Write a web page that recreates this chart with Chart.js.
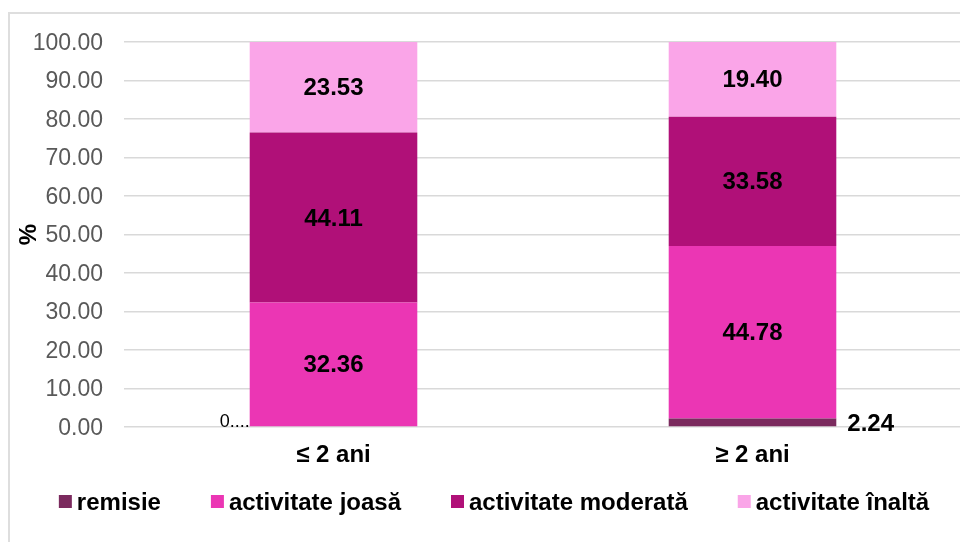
<!DOCTYPE html>
<html><head><meta charset="utf-8">
<script src="https://cdn.jsdelivr.net/npm/chart.js@4.4.1/dist/chart.umd.min.js"></script>
<style>
html,body{margin:0;padding:0;width:960px;height:542px;overflow:hidden;background:#fff;}
#frame{position:absolute;left:8px;top:12px;width:1000px;height:600px;border:2px solid #dedede;box-sizing:border-box;}
#c{position:absolute;left:0;top:0;}
</style></head><body>
<div id="frame"></div>
<canvas id="c" width="985" height="542"></canvas>
<script>
// ---- data ----
const categories = ['≤ 2 ani', '≥ 2 ani'];
const seriesNames = ['remisie', 'activitate joasă', 'activitate moderată', 'activitate înaltă'];
const remisie = [0.00, 2.24];
const activitateJoasa = [32.36, 44.78];
const activitateModerata = [44.11, 33.58];
const activitateInalta = [23.53, 19.40];
const remisieLabelText = ['0....', '2.24'];
const yTickValues = [0, 10, 20, 30, 40, 50, 60, 70, 80, 90, 100];
const yAxisTitle = '%';

const FONT = "'Liberation Sans', Arial, Helvetica, sans-serif";
const seriesColors = ['#7b2a5e', '#eb36b4', '#b01078', '#faa5e8'];
const seriesData = [remisie, activitateJoasa, activitateModerata, activitateInalta];

const valueLabels = {
  id: 'valueLabels',
  afterDatasetsDraw(chart) {
    const ctx = chart.ctx;
    ctx.save();
    ctx.fillStyle = '#000';
    chart.data.datasets.forEach((ds, di) => {
      const meta = chart.getDatasetMeta(di);
      meta.data.forEach((el, i) => {
        const p = el.getProps(['x', 'y', 'base', 'width'], true);
        if (di === 0) {
          if (i === 0) {
            ctx.font = "18px " + FONT;
            ctx.textAlign = 'right';
            ctx.textBaseline = 'middle';
            ctx.fillText(remisieLabelText[i], p.x - p.width / 2, p.base - 5);
          } else {
            ctx.font = "bold 24px " + FONT;
            ctx.textAlign = 'left';
            ctx.textBaseline = 'middle';
            ctx.fillText(remisieLabelText[i], p.x + p.width / 2 + 11, (p.y + p.base) / 2 + 2.5);
          }
        } else {
          ctx.font = "bold 24px " + FONT;
          ctx.textAlign = 'center';
          ctx.textBaseline = 'middle';
          ctx.fillText(ds.data[i].toFixed(2), p.x, (p.y + p.base) / 2 + 1.5);
        }
      });
    });
    ctx.restore();
  }
};

const customLegend = {
  id: 'customLegend',
  afterDraw(chart, args, opts) {
    const ctx = chart.ctx;
    ctx.save();
    ctx.font = "bold 24px " + FONT;
    const box = 13, gap = 5, spacing = 50;
    const items = chart.data.datasets.map(ds => ({text: ds.label, color: ds.backgroundColor, w: ctx.measureText(ds.label).width}));
    const total = items.reduce((s, it) => s + box + gap + it.w, 0) + spacing * (items.length - 1);
    let x = opts.centerX - total / 2;
    const y = opts.centerY;
    items.forEach(it => {
      ctx.fillStyle = it.color;
      ctx.fillRect(x, y - box / 2, box, box);
      ctx.fillStyle = '#000';
      ctx.textAlign = 'left';
      ctx.textBaseline = 'middle';
      ctx.fillText(it.text, x + box + gap, y + 1.5);
      x += box + gap + it.w + spacing;
    });
    ctx.restore();
  }
};

new Chart(document.getElementById('c'), {
  type: 'bar',
  data: {
    labels: categories,
    datasets: seriesNames.map((n, k) => ({
      label: n,
      data: seriesData[k],
      backgroundColor: seriesColors[k],
      borderWidth: 0,
      barPercentage: 0.4,
      categoryPercentage: 1.0
    }))
  },
  plugins: [valueLabels, customLegend],
  options: {
    responsive: false,
    animation: false,
    layout: { padding: { top: 42, right: 23, left: 0, bottom: 70 } },
    plugins: {
      legend: { display: false },
      tooltip: { enabled: false },
      customLegend: { centerX: 494, centerY: 501.5 }
    },
    scales: {
      x: {
        stacked: true,
        grid: { display: false, drawTicks: false },
        border: { display: false },
        ticks: { color: '#000', font: { family: FONT, size: 24, weight: 'bold' }, padding: 14 },
        afterFit(s) { s.height = 45; }
      },
      y: {
        stacked: true,
        min: 0, max: 100,
        afterBuildTicks(s) { s.ticks = yTickValues.map(v => ({ value: v })); },
        grid: { color: '#d9d9d9', lineWidth: 1.5, drawTicks: false },
        border: { display: false },
        ticks: { color: '#595959', font: { family: FONT, size: 23 }, padding: 21, labelOffset: 1.5, callback: v => Number(v).toFixed(2) },
        title: { display: true, text: yAxisTitle, color: '#000', font: { family: FONT, size: 24, weight: 'bold' }, padding: { top: 15, bottom: 0 } },
        afterFit(s) { s.width = 124; }
      }
    }
  }
});
</script>
</body></html>
